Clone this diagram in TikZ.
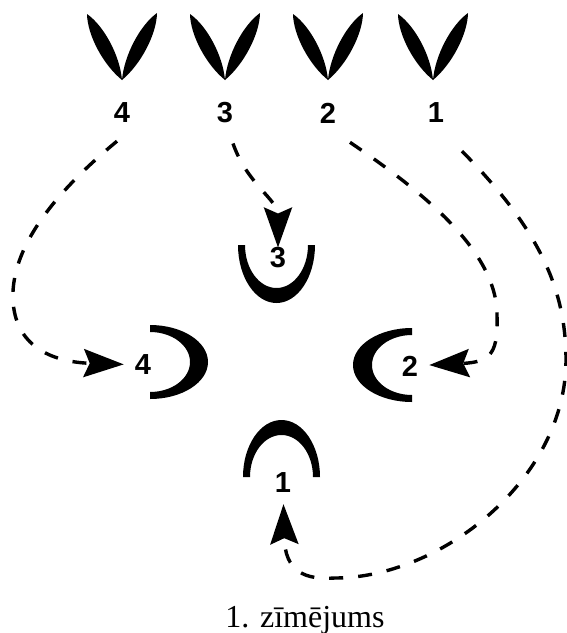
\documentclass[tikz,border=0pt]{standalone}
\usepackage{fontspec}
\setmainfont{Liberation Serif}
\newfontfamily\numfont{Liberation Sans}
\usetikzlibrary{arrows.meta}

\tikzset{
  num/.style={inner sep=0pt, font=\numfont\bfseries\fontsize{29}{33}\selectfont},
  trail/.style={line width=3.4pt, dash pattern=on 14pt off 15pt,
    -{Stealth[length=40pt, width=28pt, inset=6pt]}, shorten >=11pt},
}

\begin{document}
\begin{tikzpicture}[x=1pt, y=-1pt]
    \useasboundingbox (0,0) rectangle (566,633);
    \foreach \x/\lx/\n in {122/122/4, 225/225/3, 328/328/2, 433/436/1} {
      \fill (\x,80) .. controls (\x-2.1,55.7) and (\x-17.85,26) .. (\x-35,14)
            .. controls (\x-34.65,35) and (\x-18.9,64.7) .. (\x,80) -- cycle;
      \fill (\x,80) .. controls (\x+2.1,55.5) and (\x+17.85,25.35) .. (\x+35,13)
            .. controls (\x+34.65,34.15) and (\x+18.9,64.3) .. (\x,80) -- cycle;
      \node[num] (t\n) at (\lx,113) {\n};
    }
    \fill (238,245) arc[start angle=180, end angle=0, x radius=38.5, y radius=58]
          -- (308,245) arc[start angle=0, end angle=180, x radius=31.5, y radius=43] -- cycle;
    \fill (150,399) arc[start angle=90, end angle=-90, x radius=58, y radius=37]
          -- (150,332) arc[start angle=-90, end angle=90, x radius=40, y radius=30] -- cycle;
    \fill (412,402) arc[start angle=90, end angle=270, x radius=59, y radius=37]
          -- (412,335) arc[start angle=270, end angle=90, x radius=40, y radius=30] -- cycle;
    \fill (243,477) arc[start angle=180, end angle=360, x radius=38.5, y radius=57]
          -- (313,477) arc[start angle=0, end angle=-180, x radius=31.5, y radius=42] -- cycle;
    \node[num] (p4) at (143,365) {4};
    \node[num] (p3) at (278,258) {3};
    \node[num] (p2) at (410,366) {2};
    \node[num] (p1) at (283,483) {1};
    \draw[trail] ([shift={(-5,18)}]t4.south) .. controls (70,180) and (10,240) .. (13,300)
          .. controls (15,345) and (50,362) .. (p4);
    \draw[trail, shorten >=0pt] ([shift={(8,20)}]t3.south) .. controls (247,184) and (278,200) .. (p3);
    \draw[trail] ([shift={(22,19)}]t2.south) .. controls (420,190) and (497,250) .. (497,315)
          .. controls (498,352) and (492,362) .. (p2);
    \draw[trail] ([shift={(26,28)}]t1.south) .. controls (540,230) and (566,290) .. (566,360)
          .. controls (566,480) and (440,578) .. (335,578)
          .. controls (305,580) and (285,572) .. (p1);
    \node[font=\fontsize{32}{38}\selectfont, anchor=base] (cap) at (305,627) {1. zīmējums};
\end{tikzpicture}
\end{document}
